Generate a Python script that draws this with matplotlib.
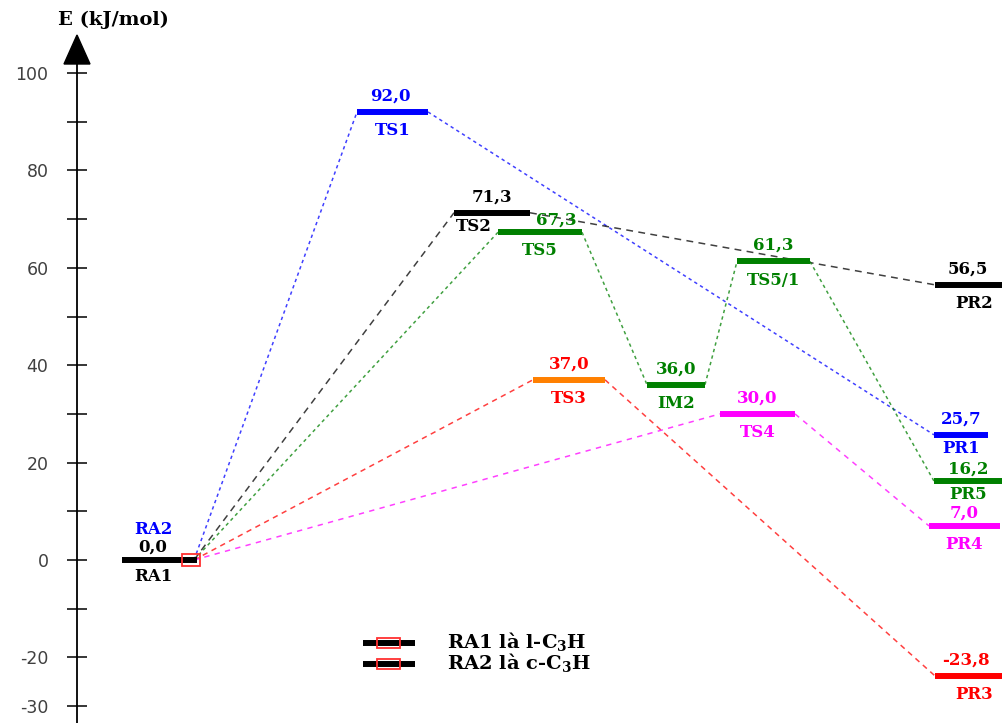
import matplotlib
matplotlib.use("Agg")
import matplotlib.pyplot as plt
from matplotlib.patches import Rectangle

# ---- data -------------------------------------------------------------
species = ["RA1", "TS1", "TS2", "TS5", "TS3", "IM2", "TS5/1", "TS4",
           "PR2", "PR1", "PR5", "PR4", "PR3"]
energies = [0.0, 92.0, 71.3, 67.3, 37.0, 36.0, 61.3, 30.0,
            56.5, 25.7, 16.2, 7.0, -23.8]
label_colors = ["black", "blue", "black", "green", "red", "green", "green",
                "magenta", "black", "blue", "green", "magenta", "red"]

# reaction channels (sequence of species)
pathways = [
    (["RA1", "TS1", "PR1"], "blue"),
    (["RA1", "TS2", "PR2"], "black"),
    (["RA1", "TS5", "IM2", "TS5/1", "PR5"], "green"),
    (["RA1", "TS3", "PR3"], "red"),
    (["RA1", "TS4", "PR4"], "magenta"),
]

y_ticks = list(range(-30, 101, 10))
y_tick_labels = ["-30", "-20", "", "0", "", "20", "", "40", "", "60", "",
                 "80", "", "100"]
legend_labels = ["RA1 là l-C$_{3}$H", "RA2 là c-C$_{3}$H"]

# ---- layout (horizontal slots of the levels, figure pixels) -----------
x_span = {
    "RA1": (122, 197), "TS1": (357, 428), "TS2": (454, 530),
    "TS5": (498, 582), "TS3": (533, 605), "IM2": (647, 705),
    "TS5/1": (737, 810), "TS4": (720, 795), "PR2": (935, 1010),
    "PR1": (934, 988), "PR5": (934, 1010), "PR4": (929, 1000),
    "PR3": (935, 1010),
}
# label x-centres where the default (bar centre) would collide
value_x = {"RA1": 153, "TS1": 390, "TS5": 556, "PR2": 968, "PR3": 966}
name_x = {"RA1": 153, "TS2": 474, "PR2": 974, "PR3": 974}
# vertical offsets (points); tighter where levels are close together
value_dy = {"TS5": 9, "PR5": 9, "PR4": 9, "RA1": 9}
name_dy = {"TS2": -10, "PR1": -10, "PR5": -10, "RA1": -12}
VALUE_DY, NAME_DY = 11.5, -13.5

bar_colors = dict(zip(species, label_colors))
bar_colors["TS3"] = "#FF8000"
line_styles = {"blue": (0, (2.2, 2.2)), "black": (0, (4.5, 3.5)),
               "green": (0, (2.2, 2.2)), "red": (0, (3.5, 3)),
               "magenta": (0, (3.5, 3.5))}

E = dict(zip(species, energies))
lcol = dict(zip(species, label_colors))

plt.rcParams["mathtext.fontset"] = "custom"
plt.rcParams["mathtext.rm"] = "DejaVu Serif:bold"
plt.rcParams["mathtext.it"] = "DejaVu Serif:bold"
plt.rcParams["mathtext.bf"] = "DejaVu Serif:bold"

fig = plt.figure(figsize=(10.03, 7.23), dpi=100)
ax = fig.add_axes([0, 0, 1, 1])
ax.set_xlim(0, 1003)
y0_px, scale = 560.0, 4.87


def py(px):
    """Energy value sitting at a given pixel row."""
    return (y0_px - px) / scale


ax.set_ylim(py(723), py(0))

serif = dict(family="DejaVu Serif", weight="bold", fontsize=12)

# connecting dashed lines
for seq, col in pathways:
    for a, b in zip(seq[:-1], seq[1:]):
        xa = x_span[a][1] - (3 if a == "RA1" else 0)
        xb = x_span[b][0]
        ax.plot([xa, xb], [E[a], E[b]], color=col, lw=1.1,
                linestyle=line_styles[col], alpha=0.75, zorder=2)

# energy levels and labels
for name in species:
    x1, x2 = x_span[name]
    e = E[name]
    ax.plot([x1, x2], [e, e], color=bar_colors[name], lw=4.3,
            solid_capstyle="butt", zorder=3)
    xc = (x1 + min(x2, 1003)) / 2
    val = f"{e:.1f}".replace(".", ",")
    ax.annotate(val, (value_x.get(name, xc), e),
                xytext=(0, value_dy.get(name, VALUE_DY)),
                textcoords="offset points", ha="center", va="center",
                color=lcol[name], **serif)
    ax.annotate(name, (name_x.get(name, xc), e),
                xytext=(0, name_dy.get(name, NAME_DY)),
                textcoords="offset points", ha="center", va="center",
                color=lcol[name], **serif)

# second reactant shares the zero level
ax.annotate("RA2", (153, E["RA1"]), xytext=(0, 22), textcoords="offset points",
            ha="center", va="center", color="blue", **serif)
ax.add_patch(Rectangle((182, E["RA1"] - 1.2), 18, 2.4, fill=False,
                       edgecolor="#FF3030", lw=1.3, zorder=4))

# legend
for i, txt in enumerate(legend_labels):
    yl = py(643 + 21 * i)
    ax.plot([363, 415], [yl, yl], color="black", lw=4.3,
            solid_capstyle="butt", zorder=3)
    ax.add_patch(Rectangle((377, yl - 0.95), 23, 1.9, fill=False,
                           edgecolor="#FF3030", lw=1.3, zorder=4))
    ax.text(447, yl + 0.3, txt, ha="left", va="center", color="black",
            family="DejaVu Serif", weight="bold", fontsize=14)

# energy axis with arrow head
for s in ("top", "right", "bottom"):
    ax.spines[s].set_visible(False)
ax.spines["left"].set_position(("data", 77))
ax.spines["left"].set_bounds(ax.get_ylim()[0], py(60))
ax.spines["left"].set_linewidth(1.3)
ax.set_xticks([])
ax.set_yticks(y_ticks)
ax.set_yticklabels(y_tick_labels)
ax.tick_params(axis="y", direction="inout", length=15, width=1.1,
               pad=13, labelsize=12.5, labelcolor="#404040")
ax.fill([64, 90, 77], [py(64), py(64), py(35)], color="black", zorder=5,
        clip_on=False)
ax.text(58, py(20), "E (kJ/mol)", ha="left", va="center",
        color="black", family="DejaVu Serif", weight="bold", fontsize=14)

fig.savefig("out.png", dpi=100)
